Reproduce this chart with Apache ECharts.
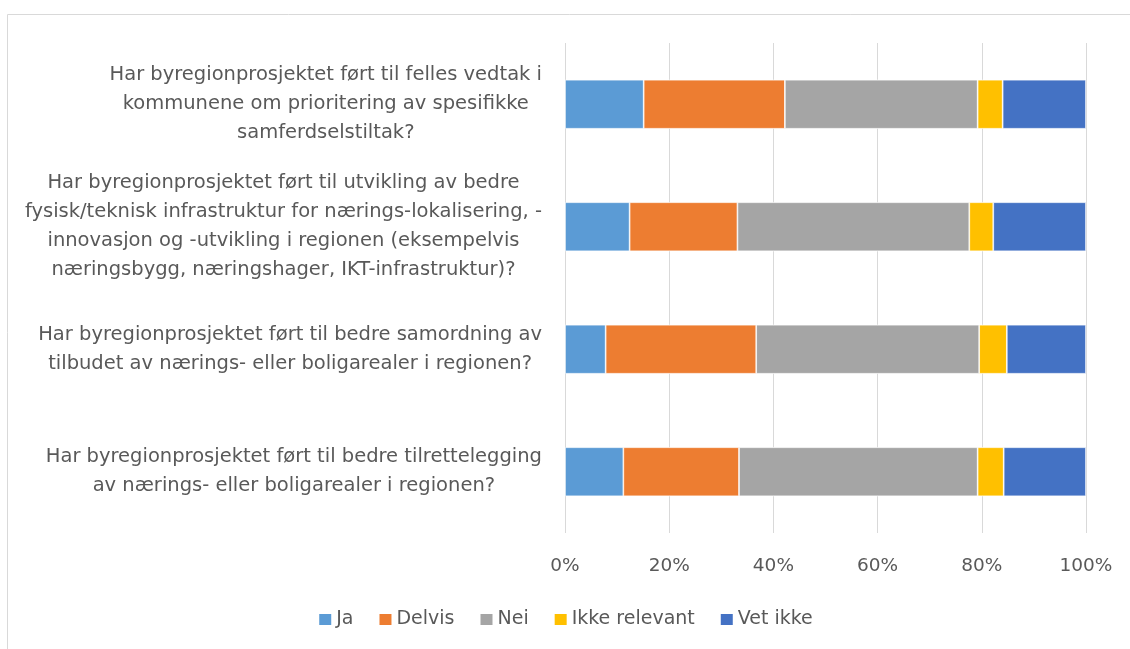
<!DOCTYPE html>
<html>
<head>
<meta charset="utf-8">
<script src="https://cdn.jsdelivr.net/npm/echarts@6/dist/echarts.min.js"></script>
<style>
  html, body { margin: 0; padding: 0; background: #fff; }
  #main { width: 1130px; height: 649px; }
</style>
</head>
<body>
<div id="main"></div>
<script>
// spørsmål, ovenfra og ned (linjeskift som i originalen)
var categories = [
  'Har byregionprosjektet ført til felles vedtak i\nkommunene om prioritering av spesifikke\nsamferdselstiltak?',
  'Har byregionprosjektet ført til utvikling av bedre\nfysisk/teknisk infrastruktur for nærings-lokalisering, -\ninnovasjon og -utvikling i regionen (eksempelvis\nnæringsbygg, næringshager, IKT-infrastruktur)?',
  'Har byregionprosjektet ført til bedre samordning av\ntilbudet av nærings- eller boligarealer i regionen?',
  'Har byregionprosjektet ført til bedre tilrettelegging\nav nærings- eller boligarealer i regionen?'
];
var seriesNames = ['Ja', 'Delvis', 'Nei', 'Ikke relevant', 'Vet ikke'];
// andeler i prosent (lest av bildet)
var ja          = [15.1, 12.4,  7.8, 11.2];
var delvis      = [27.1, 20.7, 28.9, 22.2];
var nei         = [37.0, 44.5, 42.8, 45.8];
var ikkeRelevant= [ 4.8,  4.6,  5.3,  5.0];
var vetIkke     = [16.0, 17.8, 15.2, 15.8];
var xTicks = [0, 20, 40, 60, 80, 100];

var colors = ['#5B9BD5', '#ED7D31', '#A5A5A5', '#FFC000', '#4472C4'];
var values = [ja, delvis, nei, ikkeRelevant, vetIkke];
var fontFam = '"DejaVu Sans", sans-serif';
var textColor = '#595959';

var series = [];
for (var i = 0; i < seriesNames.length; i++) {
  series.push({
    name: seriesNames[i],
    type: 'bar',
    stack: 'total',
    barWidth: '40%',
    data: values[i],
    itemStyle: { color: colors[i], borderColor: '#ffffff', borderWidth: 0.7 }
  });
}

var myChart = echarts.init(document.getElementById('main'), null, { renderer: 'canvas' });
option = {
  animation: false,
  textStyle: { fontFamily: fontFam },
  graphic: [{
    type: 'rect',
    shape: { x: 7.5, y: 14.5, width: 1130, height: 700 },
    style: { fill: 'none', stroke: '#D9D9D9', lineWidth: 1 },
    silent: true
  }],
  grid: { left: 565, right: 44, top: 43, bottom: 116, containLabel: false },
  legend: {
    data: seriesNames,
    top: 605,
    left: 'center',
    icon: 'rect',
    itemWidth: 14,
    itemHeight: 13,
    itemGap: 24,
    textStyle: { fontFamily: fontFam, fontSize: 19, color: textColor, padding: [0, 0, 0, -1] }
  },
  xAxis: {
    type: 'value',
    min: 0,
    max: 100,
    interval: 20,
    axisLine: { show: false },
    axisTick: { show: false },
    splitLine: { lineStyle: { color: '#D9D9D9', width: 1 } },
    axisLabel: {
      margin: 24,
      fontSize: 18.5,
      color: textColor,
      fontFamily: fontFam,
      formatter: function (v) { return xTicks.indexOf(v) >= 0 ? v + '%' : ''; }
    }
  },
  yAxis: {
    type: 'category',
    data: categories,
    inverse: true,
    axisLine: { show: false },
    axisTick: { show: false },
    axisLabel: {
      margin: 23,
      align: 'right',
      formatter: function (v) {
        return v.split('\n').map(function (l) { return '{c|' + l + '}'; }).join('\n');
      },
      rich: {
        c: { align: 'center', fontSize: 19.5, lineHeight: 29, color: textColor, fontFamily: fontFam }
      }
    }
  },
  series: series
};
myChart.setOption(option);
</script>
</body>
</html>
